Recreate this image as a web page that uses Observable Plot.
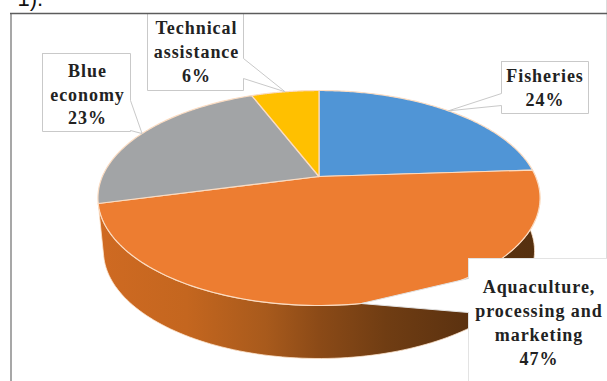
<!DOCTYPE html>
<html>
<head>
<meta charset="utf-8">
<script src="https://cdn.jsdelivr.net/npm/d3@7"></script>
<script src="https://cdn.jsdelivr.net/npm/@observablehq/plot@0.6"></script>
<style>
  html, body { margin: 0; padding: 0; background: #fff; overflow: hidden; }
  svg { display: block; }
  .slice-label { letter-spacing: 0.95px; }
</style>
</head>
<body>
<script>
// Project funding shares, clockwise from twelve o'clock
const categories = ["Fisheries", "Aquaculture,\nprocessing and\nmarketing", "Blue\neconomy", "Technical\nassistance"];
const shares = [24, 47, 23, 6];
const colors = ["#5095d6", "#ed7d31", "#a2a4a6", "#ffc000"];

// Where each label box sits, with the part of its edge that the pointer grows from
const boxes = [
  {x1: 501, x2: 588, y1: 61, y2: 113, side: "left", b1: 93, b2: 105, tx: 544.5, ty: 86},
  {x1: 468, x2: 612, y1: 258, y2: 390, side: "left", b1: 278, b2: 312, tx: 538.5, ty: 321},
  {x1: 42, x2: 130, y1: 53, y2: 131, side: "right", b1: 100, b2: 130, tx: 87, ty: 92.5},
  {x1: 147, x2: 243, y1: 13, y2: 90, side: "right", b1: 58, b2: 78, tx: 196, ty: 50}
];

// Pie seen in perspective: a unit circle mapped onto the page
const cx = 318.5, cy = 176, rx = 216.6, ry = 103.2, tilt = 0.2;
const depth = 53, baseScale = 0.975;

function rim(fraction) {
  const a = fraction * 2 * Math.PI;
  const px = Math.sin(a), py = -Math.cos(a);
  const d = 1 - tilt * py;
  return {x: rx * px / d, y: ry * py / d};
}
const top3d = (f) => { const p = rim(f); return {x: cx + p.x, y: cy + p.y}; };
const base3d = (f) => { const p = rim(f); return {x: cx + p.x * baseScale, y: cy + p.y + depth}; };
const arc = (from, to, at) => d3.range(0, 121).map((i) => at(from + (to - from) * i / 120));

const ends = d3.cumsum(shares, (s) => s / 100);
const starts = [0, ...ends.slice(0, -1)];

// Top face, one closed outline per slice
const slices = shares.flatMap((s, i) => {
  const outline = [{x: cx, y: cy}, ...arc(starts[i], ends[i], top3d), {x: cx, y: cy}];
  return outline.map((p) => ({...p, slice: i}));
});

// Front wall below the larger slice
const wall = [...arc(starts[1], ends[1], top3d), ...arc(ends[1], starts[1], base3d)];
wall.push(wall[0]);

// Label boxes joined with a pointer reaching the middle of their slice
const callouts = boxes.flatMap((b, i) => {
  const tip = top3d((starts[i] + ends[i]) / 2);
  const edge = b.side === "left" ? b.x1 : b.x2;
  const outline = b.side === "left"
    ? [[b.x1, b.y1], [b.x2, b.y1], [b.x2, b.y2], [b.x1, b.y2], [edge, b.b2], [tip.x, tip.y], [edge, b.b1], [b.x1, b.y1]]
    : [[b.x1, b.y1], [b.x2, b.y1], [edge, b.b1], [tip.x, tip.y], [edge, b.b2], [b.x2, b.y2], [b.x1, b.y2], [b.x1, b.y1]];
  return outline.map(([x, y]) => ({x, y, box: i}));
});

const labels = boxes.map((b, i) => ({x: b.tx, y: b.ty, text: `${categories[i]}\n${shares[i]}%`}));

// Shading of the wall, lit on the left and falling into shadow on the right
function wallGradient() {
  const g = d3.create("svg:linearGradient").attr("id", "wall-shade").attr("x1", 0).attr("x2", 1).attr("y1", 0).attr("y2", 0);
  [[0, "#cf6a22"], [0.2, "#c4661f"], [0.38, "#a85a1c"], [0.5, "#8b4a17"], [0.65, "#703d13"], [0.83, "#5c3210"], [1, "#55300f"]]
    .forEach(([o, c]) => g.append("stop").attr("offset", o).attr("stop-color", c));
  return d3.create("svg:defs").call((d) => d.append(() => g.node())).node();
}

const chart = Plot.plot({
  width: 607,
  height: 381,
  margin: 0,
  style: {background: "#fff"},
  x: {domain: [0, 607], range: [0, 607], axis: null},
  y: {domain: [0, 381], range: [0, 381], axis: null},
  marks: [
    wallGradient,
    Plot.text(["1)."], {x: 17, y: 5, text: (d) => d, textAnchor: "start", lineAnchor: "bottom", fontSize: 22, fontFamily: "Liberation Sans", fill: "#111"}),
    Plot.ruleX([606], {stroke: "#dcdcdc"}),
    Plot.ruleX([10.5], {y1: 13, y2: 381, stroke: "#8a8a8a", strokeWidth: 1.5}),
    Plot.line(wall, {x: "x", y: "y", fill: "url(#wall-shade)", stroke: "#fde3cc", strokeWidth: 0.8}),
    ...shares.map((s, i) => Plot.line(slices.filter((d) => d.slice === i), {x: "x", y: "y", fill: colors[i], stroke: "#fbdcc2", strokeWidth: 1.2, strokeLinejoin: "round"})),
    ...boxes.map((b, i) => Plot.line(callouts.filter((d) => d.box === i), {x: "x", y: "y", fill: "#fff", stroke: i === 1 ? "#e3e3e3" : "#c9c9c9", strokeWidth: 1, strokeLinejoin: "miter"})),
    Plot.ruleY([13], {x1: 10, x2: 607, stroke: "#5c5c5c", strokeWidth: 1.5}),
    Plot.text(labels, {x: "x", y: "y", text: "text", textAnchor: "middle", lineAnchor: "middle", lineHeight: 1.32, fontSize: 18, fontWeight: "bold", fontFamily: "Liberation Serif", fill: "#222", className: "slice-label"})
  ]
});
document.body.append(chart);
</script>
</body>
</html>
